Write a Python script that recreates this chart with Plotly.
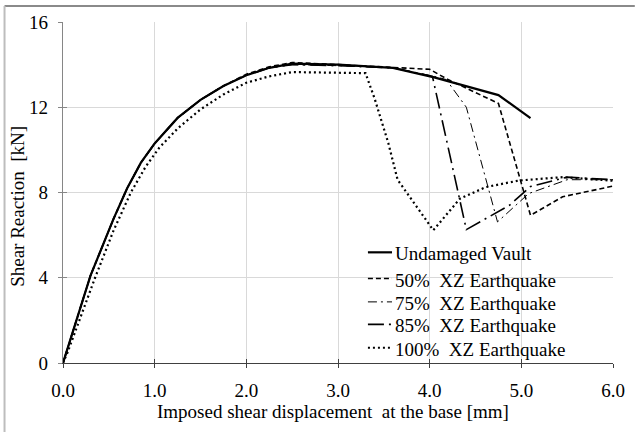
import plotly.graph_objects as go

# ---- data ----
undamaged_x = [0, 0.3, 0.55, 0.7, 0.85, 1.0, 1.25, 1.5, 1.75, 2.0, 2.25, 2.5, 3.0, 3.6, 4.05, 4.75, 5.1]
undamaged_y = [0, 4.1, 6.75, 8.2, 9.4, 10.3, 11.5, 12.35, 13.0, 13.5, 13.85, 14.05, 14.0, 13.85, 13.4, 12.57, 11.49]

eq50_x = [0, 0.3, 0.55, 0.7, 0.85, 1.0, 1.25, 1.5, 1.75, 2.0, 2.25, 2.5, 3.0, 3.5, 4.0, 4.2, 4.75, 5.1, 5.45, 6.0]
eq50_y = [0, 4.1, 6.75, 8.2, 9.4, 10.3, 11.5, 12.35, 13.0, 13.55, 13.9, 14.1, 14.0, 13.9, 13.78, 13.3, 12.18, 6.93, 7.8, 8.3]

eq75_x = [0, 0.3, 0.55, 0.7, 0.85, 1.0, 1.25, 1.5, 1.75, 2.0, 2.25, 2.5, 3.0, 3.6, 4.05, 4.18, 4.4, 4.74, 5.08, 5.5, 6.0]
eq75_y = [0, 4.1, 6.75, 8.2, 9.4, 10.3, 11.5, 12.35, 13.0, 13.5, 13.85, 14.0, 13.95, 13.85, 13.45, 13.3, 12.0, 6.62, 7.95, 8.6, 8.6]

eq85_x = [0, 0.3, 0.55, 0.7, 0.85, 1.0, 1.25, 1.5, 1.75, 2.0, 2.25, 2.5, 3.0, 3.6, 4.03, 4.4, 4.87, 5.1, 5.5, 6.0]
eq85_y = [0, 4.1, 6.75, 8.2, 9.4, 10.3, 11.5, 12.35, 13.0, 13.5, 13.85, 14.0, 13.95, 13.85, 13.45, 6.26, 7.4, 8.28, 8.72, 8.6]

eq100_x = [0, 0.05, 0.35, 0.55, 0.74, 0.9, 1.05, 1.25, 1.5, 1.75, 2.0, 2.25, 2.5, 3.0, 3.3,
           3.4, 3.55, 3.65, 4.04, 4.33, 4.61, 4.97, 5.45, 6.0]
eq100_y = [0, 0.5, 4.0, 6.2, 8.0, 9.2, 10.1, 11.0, 11.9, 12.6, 13.15, 13.45, 13.65, 13.62, 13.6,
           12.4, 10.3, 8.6, 6.23, 7.71, 8.25, 8.56, 8.72, 8.55]

names = ["Undamaged Vault", "50%  XZ Earthquake", "75%  XZ Earthquake",
         "85%  XZ Earthquake", "100%  XZ Earthquake"]

x_ticks = [0, 1, 2, 3, 4, 5, 6]
x_tick_text = ["0.0", "1.0", "2.0", "3.0", "4.0", "5.0", "6.0"]
y_ticks = [0, 4, 8, 12, 16]

FONT = "Liberation Serif, Times New Roman, serif"
FS = 19

styles = [
    dict(color="black", width=2.2, dash="solid"),
    dict(color="black", width=1.6, dash="5px,3px"),
    dict(color="black", width=1.0, dash="9px,4px,2px,4px"),
    dict(color="black", width=1.6, dash="16px,5px,2px,5px"),
    dict(color="black", width=2.2, dash="2px,3px"),
]
data = [(undamaged_x, undamaged_y), (eq50_x, eq50_y), (eq75_x, eq75_y),
        (eq85_x, eq85_y), (eq100_x, eq100_y)]

fig = go.Figure()
for (xs, ys), ln, nm in zip(data, styles, names):
    fig.add_trace(go.Scatter(x=xs, y=ys, mode="lines", name=nm, line=ln, showlegend=False))

# invisible trace for the overlay axes (inner half of the cross ticks)
fig.add_trace(go.Scatter(x=[0], y=[0], xaxis="x2", yaxis="y2", mode="markers",
                         marker=dict(opacity=0), showlegend=False, hoverinfo="skip"))

# plot-area geometry in pixels (for placing the in-plot legend)
L, T, W, H = 63, 21, 555, 342
def px(xp):
    return (xp - L) / W
def py(yp):
    return (T + H - yp) / H

leg_rows = [252, 278.3, 301.7, 324.3, 347.7]
annotations = [
    dict(text="Imposed shear displacement  at the base [mm]", xref="paper", yref="paper",
         x=px(335.5), y=py(411.5), xanchor="center", yanchor="middle", showarrow=False,
         font=dict(size=FS, family=FONT)),
    dict(text="Shear Reaction  [kN]", xref="paper", yref="paper", textangle=-90,
         x=px(17), y=py(206), xanchor="center", yanchor="middle", showarrow=False,
         font=dict(size=FS, family=FONT)),
]
shapes = [
    dict(type="line", xref="paper", yref="paper", x0=px(4), x1=px(640), y0=py(5), y1=py(5),
         line=dict(color="#8a8a8a", width=2)),
    dict(type="line", xref="paper", yref="paper", x0=px(4), x1=px(4), y0=py(5), y1=py(440),
         line=dict(color="#bdbdbd", width=2)),
]
for ry, ln, nm in zip(leg_rows, styles, names):
    shapes.append(dict(type="line", xref="paper", yref="paper",
                       x0=px(370.7), x1=px(395), y0=py(ry), y1=py(ry), line=ln))
    annotations.append(dict(text=nm, xref="paper", yref="paper", x=px(395.5), y=py(ry + 1.5),
                            xanchor="left", yanchor="middle", showarrow=False,
                            font=dict(size=FS, family=FONT, color="black")))

fig.update_layout(
    width=637, height=432,
    margin=dict(l=L, r=637 - L - W, t=T, b=432 - T - H),
    paper_bgcolor="white", plot_bgcolor="white",
    font=dict(family=FONT, size=FS, color="black"),
    showlegend=False,
    xaxis=dict(range=[0, 6], tickvals=x_ticks, ticktext=x_tick_text,
               showgrid=True, gridcolor="#d9d9d9", gridwidth=1,
               showline=True, linecolor="#404040", linewidth=1.3,
               ticks="outside", ticklen=4, tickcolor="#404040", tickwidth=1.3,
               zeroline=False, tickfont=dict(size=FS, family=FONT), ticklabelstandoff=6),
    yaxis=dict(range=[0, 16], tickvals=y_ticks,
               showgrid=True, gridcolor="#d9d9d9", gridwidth=1,
               showline=True, linecolor="#868686", linewidth=1.3,
               ticks="outside", ticklen=4, tickcolor="#868686", tickwidth=1.3,
               zeroline=False, tickfont=dict(size=FS, family=FONT), ticklabelstandoff=6),
    xaxis2=dict(range=[0, 6], tickvals=x_ticks, overlaying="x", side="bottom",
                showticklabels=False, showgrid=False, zeroline=False,
                ticks="inside", ticklen=4, tickcolor="#404040", tickwidth=1.3,
                showline=False),
    yaxis2=dict(range=[0, 16], tickvals=y_ticks, overlaying="y", side="left",
                showticklabels=False, showgrid=False, zeroline=False,
                ticks="inside", ticklen=4, tickcolor="#868686", tickwidth=1.3,
                showline=False),
    annotations=annotations,
    shapes=shapes,
)

fig.write_html("out.html")
